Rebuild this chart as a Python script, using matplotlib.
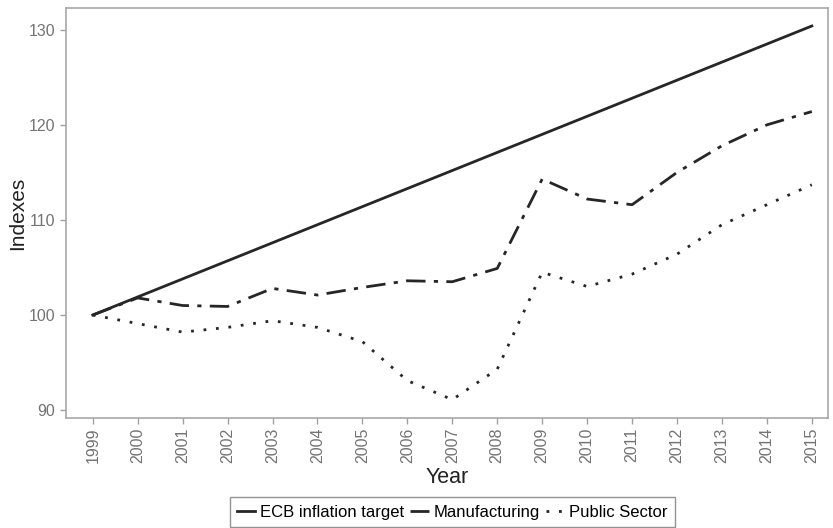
import numpy as np
import matplotlib.pyplot as plt

years = np.arange(1999, 2016)
ecb = [100.0, 101.9, 103.8, 105.7, 107.6, 109.5, 111.4, 113.3, 115.2,
       117.1, 119.0, 120.9, 122.8, 124.7, 126.6, 128.5, 130.4]
manuf = [100.0, 101.8, 101.0, 100.9, 102.8, 102.1, 102.9, 103.6, 103.5,
         104.9, 114.3, 112.2, 111.6, 115.0, 117.8, 120.0, 121.4]
public = [100.0, 99.1, 98.2, 98.7, 99.4, 98.7, 97.2, 93.1, 91.1,
          94.3, 104.5, 103.0, 104.3, 106.4, 109.5, 111.6, 113.7]

plt.rcParams['font.family'] = ['Liberation Sans', 'DejaVu Sans']

fig = plt.figure(figsize=(8.33, 5.28), dpi=100)
ax = fig.add_axes([0.079, 0.208, 0.915, 0.777])

col = '#262626'
ax.plot(years, ecb, color=col, lw=2.0, ls='-', label='ECB inflation target')
ax.plot(years, manuf, color=col, lw=2.0, ls=(0, (7, 3, 1.5, 3)), label='Manufacturing')
ax.plot(years, public, color=col, lw=2.0, ls=(0, (1, 3.5)), label='Public Sector')

ax.set_xlim(1998.4, 2015.36)
ax.set_ylim(89.15, 132.3)
ax.set_xticks(years)
ax.set_xticklabels([str(y) for y in years], rotation=90)
ax.set_yticks([90, 100, 110, 120, 130])

for s in ax.spines.values():
    s.set_color('#a8a8a8')
    s.set_linewidth(1.2)
ax.tick_params(colors='#a0a0a0', labelcolor='#737373', labelsize=11.5, length=4, width=1)
ax.tick_params(axis='x', pad=3)
ax.set_xlabel('Year', fontsize=15.5, color='#222222')
ax.xaxis.set_label_coords(0.5, -0.118)
ax.set_ylabel('Indexes', fontsize=15, color='#222222', labelpad=1)

leg = fig.legend(loc='center', bbox_to_anchor=(0.543, 0.03), ncol=3, frameon=True,
                 fontsize=12, handlelength=1.1, handletextpad=0.3, columnspacing=0.35,
                 fancybox=False, borderpad=0.45, borderaxespad=0)
leg.get_frame().set_edgecolor('#777777')
leg.get_frame().set_linewidth(1.0)

fig.savefig('out.png', dpi=100)
